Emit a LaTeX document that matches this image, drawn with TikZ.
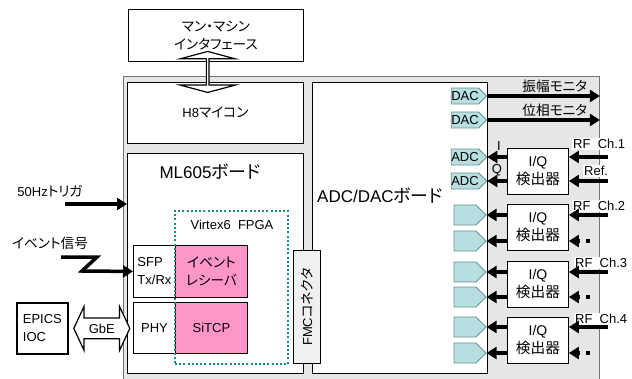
\documentclass[tikz,border=0pt]{standalone}
\usepackage{fontspec}
\usepackage{graphicx}
\setmainfont{Liberation Sans}
\newfontfamily\jpfont[Scale=1.05,RawFeature=+palt]{Noto Sans CJK JP}
\newcommand{\jp}[1]{{\jpfont #1}}
\usetikzlibrary{arrows.meta,positioning,shapes.symbols,shapes.arrows,calc}
\definecolor{panelgray}{RGB}{230,230,230}
\definecolor{evpink}{RGB}{255,150,200}
\definecolor{convfill}{RGB}{183,222,224}
\definecolor{convdraw}{RGB}{110,145,145}
\definecolor{fpgateal}{RGB}{20,140,140}
\tikzset{
  block/.style={
    rectangle,
    draw=black,
    line width=0.9pt,
    fill=white,
    inner sep=0pt,
    anchor=north west,
    align=center,
    font=\fontsize{13}{18}\selectfont
  },
  pinkblock/.style={
    block,
    fill=evpink
  },
  panel/.style={
    rectangle,
    draw=black!55,
    line width=0.9pt,
    fill=panelgray,
    inner sep=0pt,
    anchor=north west
  },
  fpgaframe/.style={
    rectangle,
    draw=fpgateal,
    line width=2pt,
    dash pattern=on 2pt off 2.2pt,
    inner sep=0pt,
    anchor=north west
  },
  conv/.style={
    signal,
    signal to=east,
    signal pointer angle=90,
    draw=convdraw,
    fill=convfill,
    line width=0.8pt,
    inner sep=0pt,
    minimum width=32pt,
    minimum height=20pt,
    font=\fontsize{13}{14}\selectfont
  },
  smallconv/.style={
    conv,
    minimum height=16pt
  },
  dblarrow/.style={
    double arrow,
    draw=black,
    line width=1.2pt,
    fill=white,
    inner sep=0pt,
    font=\fontsize{13}{15}\selectfont
  },
  fatarrow/.style={
    -{Triangle[length=10pt,width=12pt]},
    line width=3.5pt
  },
  txt/.style={
    inner sep=1pt,
    font=\fontsize{13}{15}\selectfont
  },
  headline/.style={
    inner sep=0pt,
    font=\fontsize{17}{19}\selectfont
  },
  sqdot/.style={
    rectangle,
    fill=black,
    minimum size=4pt,
    inner sep=0pt
  }
}
\begin{document}
\begin{tikzpicture}[x=1pt,y=-1pt]
  \useasboundingbox (0,0) rectangle (632,378);

  % housing and boards
  \node[panel, minimum width=476pt, minimum height=330pt] (chassis) at (123,76) {};
  \node[block, minimum width=175pt, minimum height=52pt] (mmi) at (128,9) {\jp{マン・マシン}\\\jp{インタフェース}};
  \node[block, minimum width=176pt, minimum height=61pt] (h8) at (127,82) {H8\jp{マイコン}};
  \node[block, minimum width=176pt, minimum height=220pt] (ml605) at (127,153) {};
  \node[block, minimum width=175pt, minimum height=291pt] (adcb) at (312,82) {};
  \node[headline] (mltitle) at (210,172) {ML605\jp{ボード}};
  \node[headline, anchor=west] (adctitle) at (317,196) {ADC/DAC\jp{ボード}};

  \node[dblarrow, rotate=90, minimum height=41pt, minimum width=55pt,
        double arrow head extend=12pt, double arrow tip angle=150]
        (hmi) at ($(mmi.south)!0.5!(h8.north)+(-8,0)$) {};

  % FPGA
  \node[block, align=left, minimum width=42pt, minimum height=52pt] (sfp) at (133,245) {SFP\\Tx/Rx};
  \node[block, minimum width=42pt, minimum height=51pt] (phy) at (133,302) {PHY};
  \node[pinkblock, minimum width=72pt, minimum height=52pt] (evr) at (175,245) {\jp{イベント}\\\jp{レシーバ}};
  \node[pinkblock, minimum width=72pt, minimum height=51pt] (sitcp) at (175,302) {SiTCP};
  \node[fpgaframe, minimum width=113pt, minimum height=153pt] (fpga) at (174,210) {};
  \node[txt] (fpgalab) at (232,225) {Virtex6\ \ FPGA};
  \node[block, fill=panelgray!60, minimum width=27pt, minimum height=113pt] (fmc) at (293,250) {\rotatebox{90}{FMC\jp{コネクタ}}};

  % left side
  \node[block, line width=1.8pt, align=left, minimum width=51pt, minimum height=51pt] (epics) at (16,302) {EPICS\\IOC};
  \node[dblarrow, minimum height=56pt, minimum width=44pt,
        double arrow head extend=6pt, double arrow tip angle=130]
        (gbe) at ($(epics.east)+(33,0)$) {GbE};
  \node[txt] (triglab) at (50,191) {50Hz\jp{トリガ}};
  \node[txt] (evtlab) at (50,243) {\jp{イベント信号}};
  \coordinate (trigin) at (65,204);
  \coordinate (evtin) at (61,257);
  \draw[fatarrow] (trigin) -- (trigin -| ml605.west);
  \draw[fatarrow] (evtin) -- ++(36,0) -- ++(-15,14) -- (sfp.west);

  % converters
  \node[smallconv] (dacA) at (465,96) {DAC};
  \node[smallconv] (dacP) at (465,120) {DAC};
  \node[smallconv] (adcI1) at (465,157) {ADC};
  \node[smallconv] (adcQ1) at (465,181) {ADC};
  \foreach \i/\ya/\yb in {2/215/241,3/272/297,4/327/353} {
    \node[conv] (adcI\i) at (465,\ya) {};
    \node[conv] (adcQ\i) at (465,\yb) {};
  }
  \draw[fatarrow] (dacA.east) -- node[txt, pos=0.6, above=1pt] {\jp{振幅モニタ}} (dacA.east -| chassis.east);
  \draw[fatarrow] (dacP.east) -- node[txt, pos=0.6, above=1pt] {\jp{位相モニタ}} (dacP.east -| chassis.east);

  % I/Q detectors
  \foreach \i/\y in {1/148,2/204,3/261,4/317} {
    \node[block, minimum width=61pt, minimum height=46pt, font=\fontsize{14}{18}\selectfont] (iq\i) at (507,\y) {I/Q\\\jp{検出器}};
  }
  \node[txt] (ilab) at (499,146) {I};
  \node[txt] (qlab) at (497,170) {Q};
  \node[txt, fill=white, anchor=west] (rflab1) at (572,144) {RF\ \ Ch.1};
  \node[txt, fill=white, anchor=west] (reflab) at (583,171) {Ref.};
  \node[txt, fill=white, anchor=west] (rflab2) at (572,206) {RF\ \ Ch.2};
  \node[txt, fill=white, anchor=west] (rflab3) at (574,263) {RF\ \ Ch.3};
  \node[txt, fill=white, anchor=west] (rflab4) at (574,319) {RF\ \ Ch.4};
  \coordinate (rfin) at (608,0);

  \foreach \i in {1,...,4} {
    \draw[fatarrow] (adcI\i -| iq\i.west) -- (adcI\i.east);
    \draw[fatarrow] (adcQ\i -| iq\i.west) -- (adcQ\i.east);
    \draw[fatarrow] (adcI\i -| rfin) -- (adcI\i -| iq\i.east);
  }
  \draw[fatarrow] (adcQ1 -| rfin) -- (adcQ1 -| iq1.east);
  \foreach \i in {2,3,4} {
    \draw[fatarrow] ($(adcQ\i -| iq\i.east)+(11,0)$) -- (adcQ\i -| iq\i.east);
    \node[sqdot] (sq\i) at ($(adcQ\i -| iq\i.east)+(19,0)$) {};
  }
\end{tikzpicture}
\end{document}
